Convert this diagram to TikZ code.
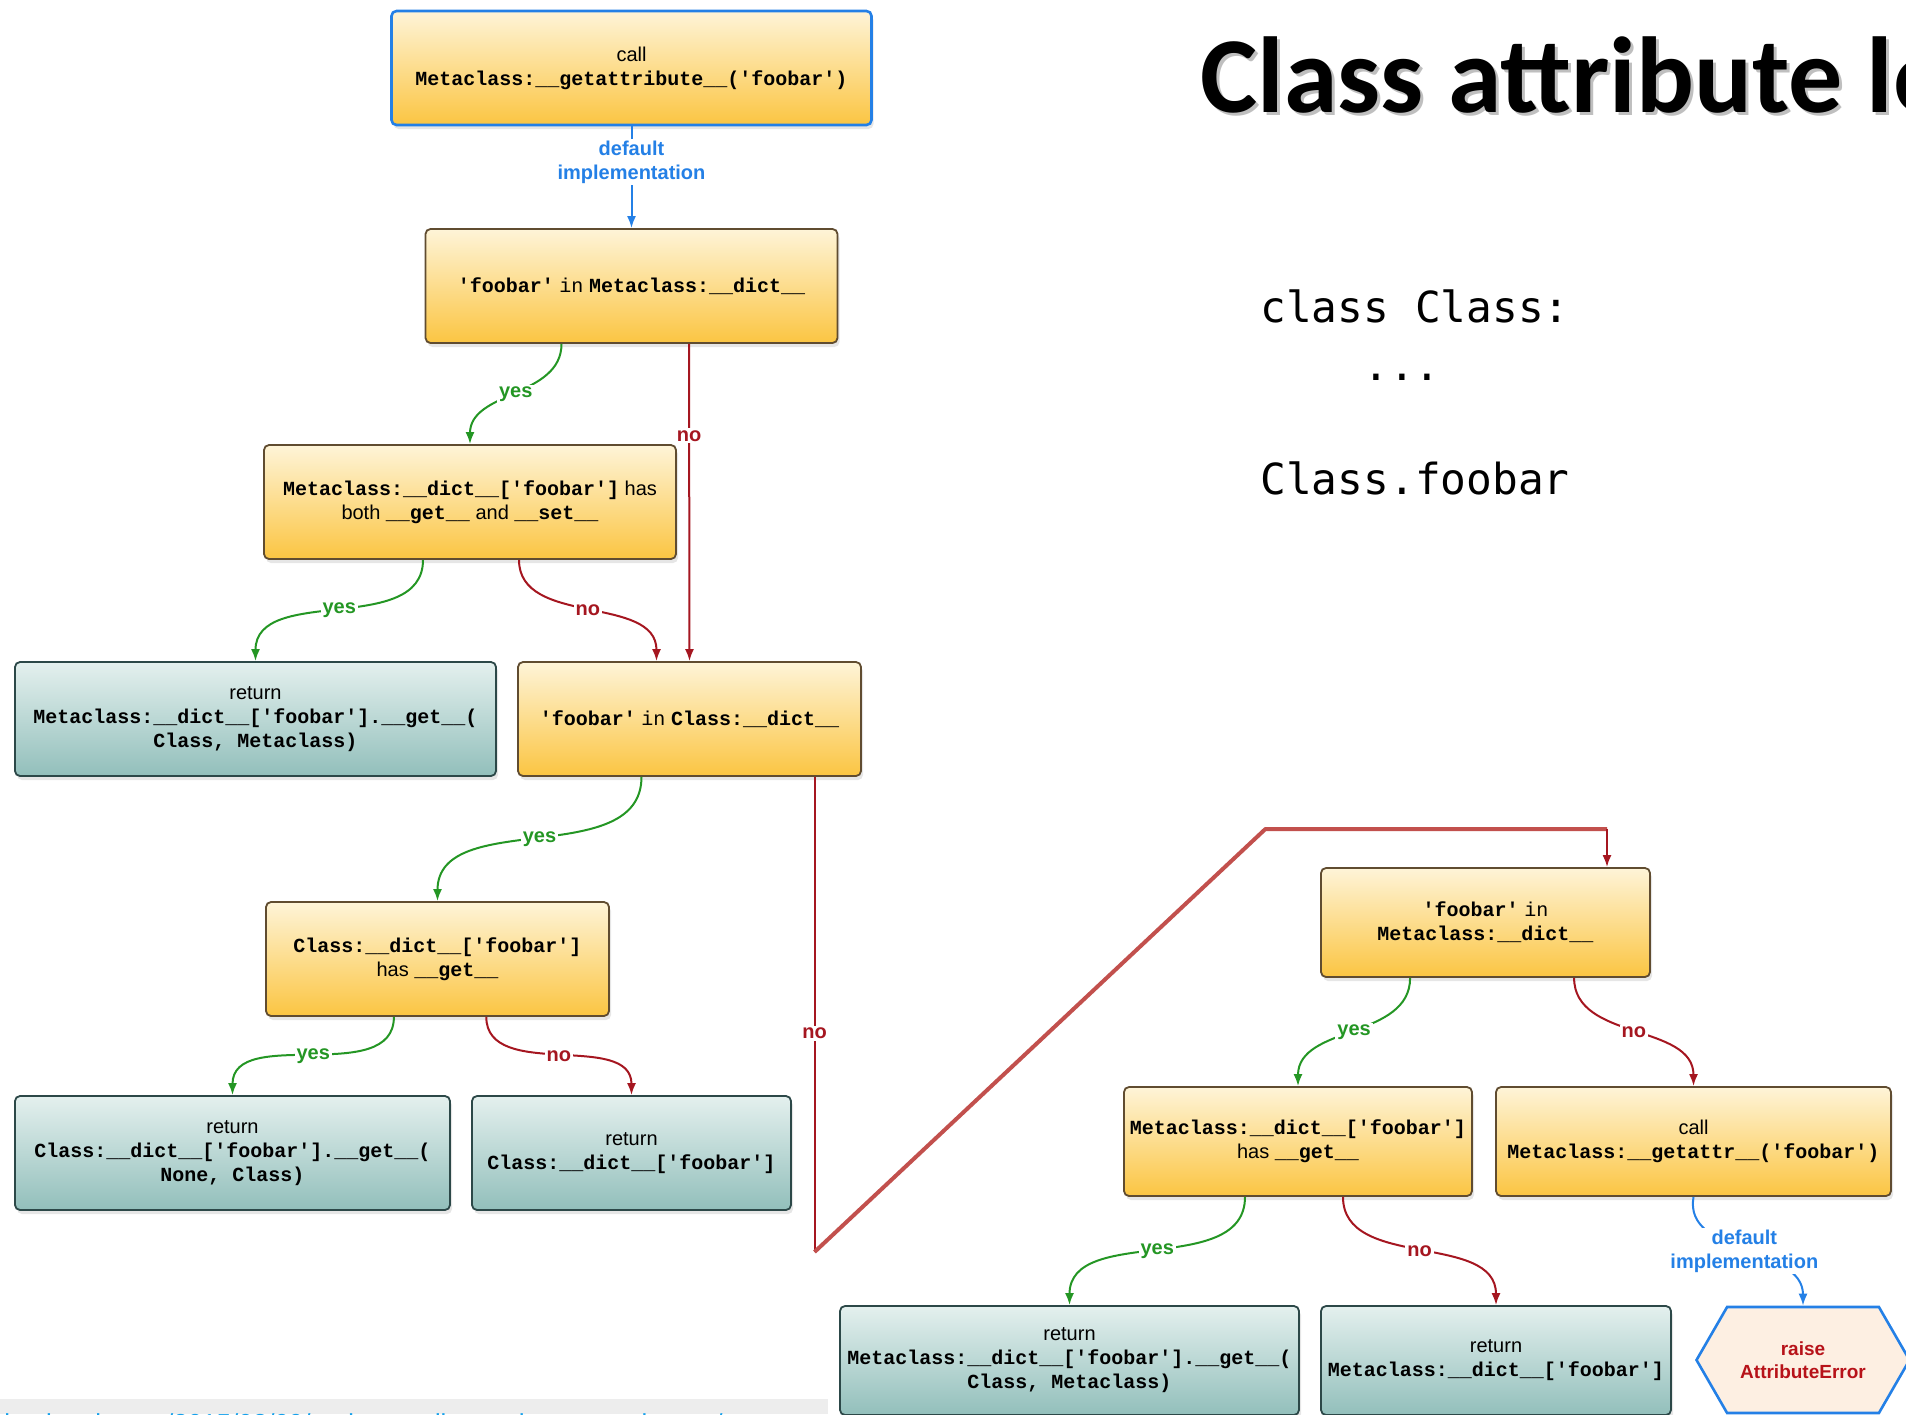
\documentclass[tikz,border=0pt]{standalone}
\usepackage{fontspec}
\setmainfont{Liberation Sans}
\setmonofont{Liberation Mono}
\newfontfamily\titlefont{Carlito}
\newfontfamily\codefont{DejaVu Sans Mono}
\usetikzlibrary{arrows.meta,shadows,shapes.symbols}

\definecolor{boxtop}{RGB}{254,244,216}
\definecolor{boxbot}{RGB}{251,197,66}
\definecolor{boxline}{RGB}{96,76,48}
\definecolor{rettop}{RGB}{228,240,238}
\definecolor{retbot}{RGB}{146,191,187}
\definecolor{retline}{RGB}{44,72,72}
\definecolor{yesgreen}{RGB}{36,150,36}
\definecolor{nored}{RGB}{165,22,32}
\definecolor{implblue}{RGB}{36,128,230}
\definecolor{markred}{RGB}{194,80,77}
\definecolor{hexfill}{RGB}{253,239,226}
\definecolor{urlblue}{RGB}{20,160,235}

\newcommand\mb[1]{{\ttfamily\bfseries #1}}
\newcommand\mr[1]{{\ttfamily #1}}

\tikzset{
  cond/.style={draw=boxline, line width=0.9pt, rounded corners=2.5pt, top color=boxtop, bottom color=boxbot,
    align=center, inner sep=2pt, drop shadow={opacity=0.2, shadow xshift=1pt, shadow yshift=-2pt}},
  ret/.style={cond, draw=retline, top color=rettop, bottom color=retbot},
  yesline/.style={draw=yesgreen, line width=1pt},
  noline/.style={draw=nored, line width=1pt},
  implline/.style={draw=implblue, line width=1pt},
  ylbl/.style={fill=white, text=yesgreen, inner sep=1pt, font=\bfseries},
  nlbl/.style={fill=white, text=nored, inner sep=1pt, font=\bfseries},
  ilbl/.style={fill=white, text=implblue, inner sep=1pt, font=\bfseries, align=center},
}

\begin{document}
\begin{tikzpicture}[x=0.5pt, y=0.5pt, >={Latex[length=6pt,width=4.5pt]}]
    \useasboundingbox (0,0) rectangle (1906,-1414);
    % title and code
    \node[anchor=base west, inner sep=0, text=black!25] (titleshadow) at (1203,-115) {\titlefont\bfseries\fontsize{54}{60}\selectfont Class attribute lookup};
    \node[anchor=base west, inner sep=0] (title) at (1200,-112) {\titlefont\bfseries\fontsize{54}{60}\selectfont Class attribute lookup};
    \node[anchor=base west, inner sep=0] (code1) at (1260,-322) {\codefont\fontsize{21.4}{24}\selectfont class Class:};
    \node[anchor=base west, inner sep=0] (code2) at (1363,-380) {\codefont\fontsize{21.4}{24}\selectfont ...};
    \node[anchor=base west, inner sep=0] (code3) at (1260,-494) {\codefont\fontsize{21.4}{24}\selectfont Class.foobar};

    % left tree
    \node[cond, draw=implblue, line width=1.3pt, minimum width=240pt, minimum height=57pt] (getattribute) at (631.5,-68) {call\\\mb{Metaclass:\_\_getattribute\_\_('foobar')}};
    \node[cond, minimum width=206pt, minimum height=57pt] (inmeta) at (631.5,-286) {\mb{'foobar'} \mr{in} \mb{Metaclass:\_\_dict\_\_}};
    \node[cond, minimum width=206pt, minimum height=57pt] (metadata) at (470,-502) {\mb{Metaclass:\_\_dict\_\_['foobar']} has\\both \mb{\_\_get\_\_} and \mb{\_\_set\_\_}};
    \node[ret, minimum width=240.5pt, minimum height=57pt] (retmetadata) at (255.5,-719) {return\\\mb{Metaclass:\_\_dict\_\_['foobar'].\_\_get\_\_(}\\\mb{Class, Metaclass)}};
    \node[cond, minimum width=171.5pt, minimum height=57pt] (inclass) at (689.5,-719) {\mb{'foobar'} \mr{in} \mb{Class:\_\_dict\_\_}};
    \node[cond, minimum width=171.5pt, minimum height=57pt] (classget) at (437.5,-959) {\mb{Class:\_\_dict\_\_['foobar']}\\has \mb{\_\_get\_\_}};
    \node[ret, minimum width=217.5pt, minimum height=57pt] (retclassget) at (232.5,-1153) {return\\\mb{Class:\_\_dict\_\_['foobar'].\_\_get\_\_(}\\\mb{None, Class)}};
    \node[ret, minimum width=159.5pt, minimum height=57pt] (retclass) at (631.5,-1153) {return\\\mb{Class:\_\_dict\_\_['foobar']}};

    % right tree
    \node[cond, minimum width=164.5pt, minimum height=54.5pt] (inmeta2) at (1485.5,-922.5) {\mb{'foobar'} \mr{in}\\\mb{Metaclass:\_\_dict\_\_}};
    \node[cond, minimum width=174pt, minimum height=54.5pt] (metaget) at (1298,-1141.5) {\mb{Metaclass:\_\_dict\_\_['foobar']}\\has \mb{\_\_get\_\_}};
    \node[cond, minimum width=197.5pt, minimum height=54.5pt] (getattr) at (1693.5,-1141.5) {call\\\mb{Metaclass:\_\_getattr\_\_('foobar')}};
    \node[ret, minimum width=229.5pt, minimum height=54.5pt] (retmetaget) at (1069.5,-1360.5) {return\\\mb{Metaclass:\_\_dict\_\_['foobar'].\_\_get\_\_(}\\\mb{Class, Metaclass)}};
    \node[ret, minimum width=175pt, minimum height=54.5pt] (retmeta) at (1496,-1360.5) {return\\\mb{Metaclass:\_\_dict\_\_['foobar']}};
    \node[signal, signal to=west and east, signal pointer angle=120, draw=implblue, line width=1.3pt, fill=hexfill,
      text=nored!80!red, align=center, minimum width=106.5pt, minimum height=53pt,
      font=\bfseries\fontsize{9.5}{11.5}\selectfont] (raise) at (1803,-1360) {raise\\AttributeError};

    % connectors
    \draw[implline, ->] (getattribute) -- node[ilbl, pos=0.35] {default\\implementation} (inmeta);
    \draw[yesline, ->] ([xshift=-35pt]inmeta.south) to[out=-90, in=90] node[ylbl] {yes} (metadata.north);
    \draw[noline, ->] ([xshift=28.75pt]inmeta.south) -- node[nlbl, pos=0.29] {no} (inclass.north);
    \draw[yesline, ->] ([xshift=-23.5pt]metadata.south) to[out=-90, in=90] node[ylbl] {yes} (retmetadata.north);
    \draw[noline, ->] ([xshift=24.5pt]metadata.south) to[out=-90, in=90] node[nlbl] {no} ([xshift=-16.5pt]inclass.north);
    \draw[yesline, ->] ([xshift=-24pt]inclass.south) to[out=-90, in=90] node[ylbl] {yes} (classget.north);
    \draw[noline] ([xshift=62.5pt]inclass.south) -- node[nlbl, pos=0.54] {no} (814.5,-1252) coordinate (turn);
    \draw[markred, line width=2pt, line join=round] (turn) -- (1265.4,-829) -- (1607,-829) coordinate (back);
    \draw[noline, ->] (back) -- (back |- inmeta2.north);
    \draw[yesline, ->] ([xshift=-21.8pt]classget.south) to[out=-90, in=90] node[ylbl] {yes} (retclassget.north);
    \draw[noline, ->] ([xshift=24.4pt]classget.south) to[out=-90, in=90] node[nlbl] {no} (retclass.north);
    \draw[yesline, ->] ([xshift=-37.7pt]inmeta2.south) to[out=-90, in=90] node[ylbl] {yes} (metaget.north);
    \draw[noline, ->] ([xshift=44.3pt]inmeta2.south) to[out=-90, in=90] node[nlbl] {no} (getattr.north);
    \draw[yesline, ->] ([xshift=-26.5pt]metaget.south) to[out=-90, in=90] node[ylbl] {yes} (retmetaget.north);
    \draw[noline, ->] ([xshift=22.5pt]metaget.south) to[out=-90, in=90] node[nlbl] {no} (retmeta.north);
    \draw[implline, ->] (getattr.south) to[out=-100, in=90] node[ilbl] {default\\implementation} (raise.north);

    % link strip at the bottom
    \fill[black!7] (0,-1399) rectangle (828,-1414);
    \node[anchor=base east, inner sep=0, text=urlblue, font=\fontsize{13}{15}\selectfont] (url) at (723,-1432) {blog.ionelmc.ro/2015/02/09/understanding-python-metaclasses/};
\end{tikzpicture}
\end{document}
